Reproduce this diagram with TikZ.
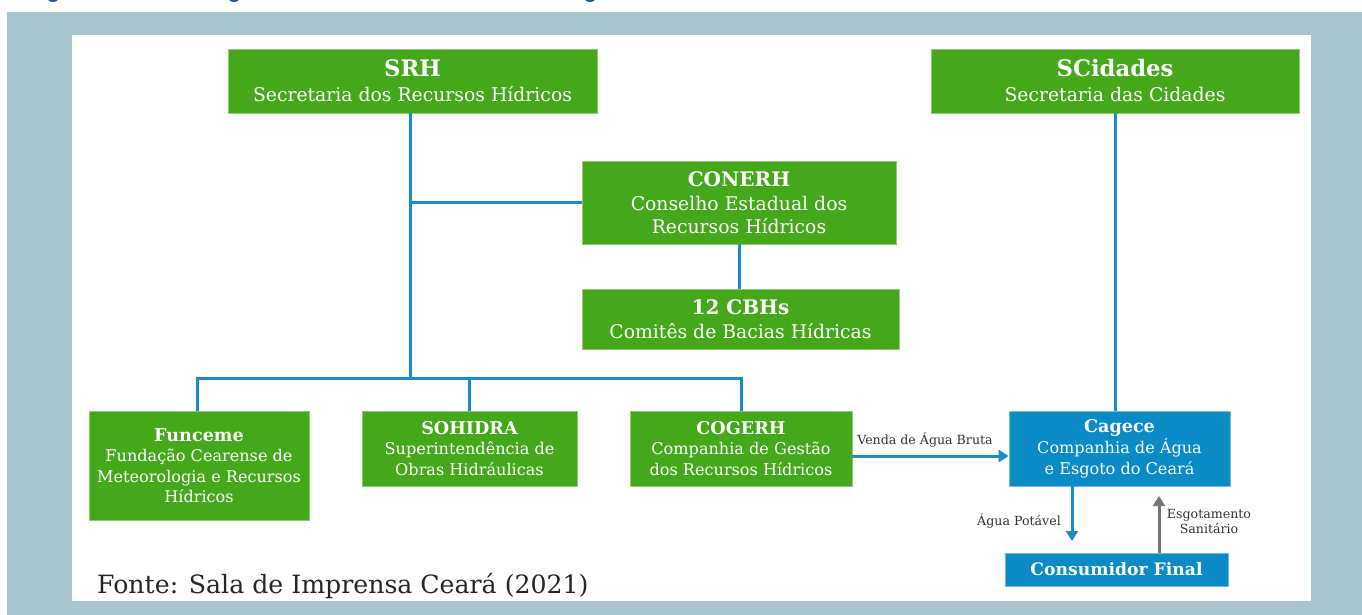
\documentclass[tikz,border=0pt]{standalone}
\usepackage{fontspec}
\setmainfont{DejaVu Serif}
\usetikzlibrary{arrows.meta}
\definecolor{bggray}{HTML}{A7C5CC}
\definecolor{boxgreen}{HTML}{45A81A}
\definecolor{boxgreenedge}{HTML}{8FCB70}
\definecolor{boxblue}{HTML}{0A8BC6}
\definecolor{boxblueedge}{HTML}{6FBCE0}
\definecolor{linkblue}{HTML}{1B8BC9}
\definecolor{arrgray}{HTML}{7A7474}
\definecolor{txtdark}{HTML}{333333}
\definecolor{capblue}{HTML}{1F5A9A}
\tikzset{
  gbox/.style={fill=boxgreen, draw=boxgreenedge, line width=0.8pt, text=white, align=center, inner sep=0pt, font=\fontsize{18.8}{20.5}\selectfont},
  bbox/.style={fill=boxblue, draw=boxblueedge, line width=0.8pt, text=white, align=center, inner sep=0pt, font=\fontsize{16.1}{20.5}\selectfont},
  smalltext/.style={font=\fontsize{16.1}{20.5}\selectfont},
  link/.style={draw=linkblue, line width=3pt},
  arr/.style={line width=3pt, -{Triangle[width=12pt,length=10pt]}},
  lbl/.style={text=txtdark, align=center, inner sep=0pt, font=\fontsize{12.6}{15}\selectfont},
}
\newcommand{\ttlA}[1]{{\fontsize{22.7}{24}\selectfont\bfseries #1}}
\newcommand{\ttlB}[1]{{\fontsize{20}{24}\selectfont\bfseries #1}}
\newcommand{\ttlC}[1]{{\fontsize{17.6}{22}\selectfont\bfseries #1}}
\begin{document}
\begin{tikzpicture}[x=1pt,y=-1pt]
\useasboundingbox (0,0) rectangle (1362,615);
\fill[white] (0,0) rectangle (1362,615);
\begin{scope}
\clip (0,0) rectangle (1362,12);
\fill[capblue] (53,0) ellipse (4.5 and 2);
\fill[capblue] (234,0) ellipse (4.5 and 2);
\fill[capblue] (590,0) ellipse (4.5 and 2);
\end{scope}
\fill[bggray] (7,12) rectangle (1362,615);
\fill[white] (72,35) rectangle (1311,601);

\node[gbox, minimum width=369pt, minimum height=64pt] (SRH) at (412.5,81) {\ttlA{SRH}\\[4.5pt]Secretaria dos Recursos Hídricos};
\node[gbox, minimum width=368pt, minimum height=64pt] (SCid) at (1115,81) {\ttlA{SCidades}\\[4.5pt]Secretaria das Cidades};
\node[gbox, minimum width=314pt, minimum height=83pt] (CONERH) at (739,202.5) {\ttlB{CONERH}\\[3.5pt]Conselho Estadual dos\\[3pt]Recursos Hídricos};
\node[gbox, minimum width=317pt, minimum height=60pt] (CBH) at (740.5,319) {\ttlB{12 CBHs}\\[3pt]Comitês de Bacias Hídricas};
\node[gbox, smalltext, minimum width=220pt, minimum height=109pt] (FUN) at (199,465.5) {\ttlC{Funceme}\\[0pt]Fundação Cearense de\\Meteorologia e Recursos\\Hídricos};
\node[gbox, smalltext, minimum width=215pt, minimum height=75pt] (SOH) at (469.5,448.5) {\ttlC{SOHIDRA}\\[0pt]Superintendência de\\Obras Hidráulicas};
\node[gbox, smalltext, minimum width=222pt, minimum height=75pt] (COG) at (741,448.5) {\ttlC{COGERH}\\[0pt]Companhia de Gestão\\dos Recursos Hídricos};
\node[bbox, minimum width=221pt, minimum height=75pt] (CAG) at (1119.5,448.5) {\ttlC{Cagece}\\[1pt]Companhia de Água\\e Esgoto do Ceará};
\node[bbox, minimum width=223pt, minimum height=33pt] (CONS) at (1116.5,569.5) {{\fontsize{17.2}{20}\selectfont\bfseries Consumidor Final}};

\coordinate (bus) at (410,378);
\coordinate (potend) at (1072,541);
\coordinate (esgend) at (1159,496);

\draw[link] ([xshift=-2.5pt]SRH.south) -- (bus);
\draw[link] ([xshift=-2.5pt]SRH.south |- CONERH.west) -- (CONERH.west);
\draw[link] (CONERH.south) -- (CONERH.south |- CBH.north);
\draw[link] ([xshift=-3.5pt]FUN.north |- bus) -- ([xshift=1.5pt]COG.north |- bus);
\draw[link] ([xshift=-2pt]FUN.north |- bus) -- ([xshift=-2pt]FUN.north);
\draw[link] (SOH.north |- bus) -- (SOH.north);
\draw[link] (COG.north |- bus) -- (COG.north);
\draw[link] (SCid.south) -- (SCid.south |- CAG.north);

\draw[arr, linkblue] ([yshift=-7.5pt]COG.east) -- ([yshift=-7.5pt]CAG.west);
\draw[arr, linkblue] (CAG.south -| potend) -- (potend);
\draw[arr, arrgray] (CONS.north -| esgend) -- (esgend);

\node[lbl] (venda) at (925,440) {Venda de Água Bruta};
\node[lbl] (pot) at (1019,521) {Água Potável};
\node[lbl] (esg) at (1209,521) {Esgotamento\\Sanitário};

\node[anchor=base west, inner sep=0pt, text=black!85, font=\fontsize{25.2}{28}\selectfont] (fonte) at (97,593) {Fonte: Sala de Imprensa Ceará (2021)};
\end{tikzpicture}
\end{document}
